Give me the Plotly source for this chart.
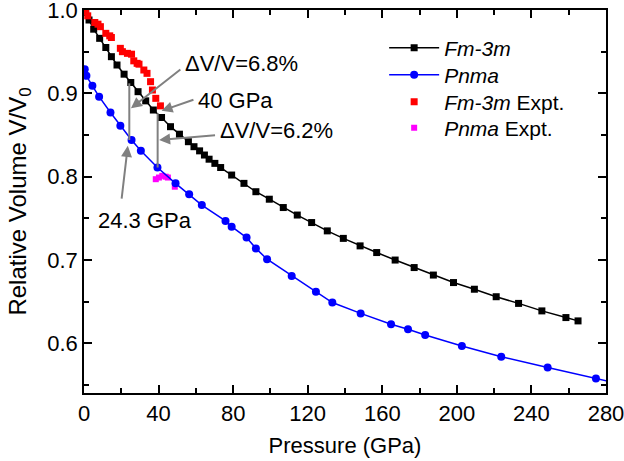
import plotly.graph_objects as go

# ---- data ----
fm3m_p = [0, 0.9, 2.7, 5.2, 8.4, 11.7, 14.7, 17.7, 21.5, 25.1, 29.0, 33.1, 37.2, 41.6, 46.4,
          51.2, 56.0, 59.0, 62.0, 64.6, 67.1, 70.2, 73.3, 79.2, 85.8, 92.2, 99.4, 106.9, 114.4,
          122.1, 130.5, 139.1, 148.1, 157.0, 166.9, 177.1, 187.4, 198.2, 209.4, 221.1, 233.1,
          245.6, 258.5, 265.0]
fm3m_v = [1.000, 0.997, 0.988, 0.977, 0.966, 0.955, 0.944, 0.934, 0.923, 0.913, 0.902, 0.891,
          0.880, 0.871, 0.860, 0.851, 0.842, 0.836, 0.831, 0.826, 0.821, 0.816, 0.811, 0.802,
          0.792, 0.782, 0.773, 0.763, 0.754, 0.745, 0.735, 0.726, 0.717, 0.709, 0.700, 0.691,
          0.682, 0.673, 0.665, 0.656, 0.648, 0.639, 0.631, 0.627]

pnma_p = [0.4, 1.3, 4.5, 8.1, 14.2, 19.5, 25.5, 30.5, 39.4, 49.1, 56.4, 63.2, 75.9, 79.2, 87.2,
          92.2, 98.2, 111.4, 124.4, 133.2, 148.4, 164.7, 173.8, 183.0, 202.7, 223.8, 248.7,
          274.6, 292.0]
pnma_v = [0.929, 0.921, 0.909, 0.896, 0.877, 0.861, 0.844, 0.831, 0.811, 0.792, 0.779, 0.766,
          0.747, 0.740, 0.727, 0.714, 0.701, 0.681, 0.662, 0.649, 0.636, 0.623, 0.617, 0.610,
          0.597, 0.584, 0.571, 0.558, 0.549]

fm3m_exp_p = [0.9, 2.0, 5.8, 7.5, 8.8, 11.7, 13.8, 14.7, 19.5, 20.6, 23.3, 25.5, 26.7, 28.5,
              29.5, 32.1, 33.8, 35.7, 36.7, 38.5, 41.0]
fm3m_exp_v = [0.998, 0.993, 0.985, 0.983, 0.980, 0.972, 0.969, 0.967, 0.954, 0.950, 0.948,
              0.947, 0.939, 0.936, 0.935, 0.928, 0.924, 0.914, 0.904, 0.894, 0.885]

pnma_exp_p = [38.5, 40.2, 42.0, 43.8, 45.0, 48.7]
pnma_exp_v = [0.797, 0.799, 0.801, 0.800, 0.799, 0.788]

x_ticks = [0, 40, 80, 120, 160, 200, 240, 280]
y_ticks = [0.6, 0.7, 0.8, 0.9, 1.0]

FONT = "Arial, Liberation Sans, sans-serif"
GRAY = "#808080"

fig = go.Figure()
fig.add_trace(go.Scatter(x=pnma_exp_p, y=pnma_exp_v, mode="markers", name="<i>Pnma</i> Expt.",
                         marker=dict(symbol="square", size=6, color="#ff00ff"), legend="legend4"))
fig.add_trace(go.Scatter(x=pnma_p, y=pnma_v, mode="lines+markers", name="<i>Pnma</i>",
                         line=dict(color="#0000ff", width=1.5),
                         marker=dict(symbol="circle", size=8, color="#0000ff"), legend="legend2"))
fig.add_trace(go.Scatter(x=fm3m_p, y=fm3m_v, mode="lines+markers", name="<i>Fm-3m</i>",
                         line=dict(color="#000000", width=1.5),
                         marker=dict(symbol="square", size=7, color="#000000"), legend="legend"))
fig.add_trace(go.Scatter(x=fm3m_exp_p, y=fm3m_exp_v, mode="markers", name="<i>Fm-3m</i> Expt.",
                         marker=dict(symbol="square", size=7, color="#ff0000"), legend="legend3"))

# vertical connector lines
fig.add_shape(type="line", x0=24.3, x1=24.3, y0=0.912, y1=0.844, line=dict(color=GRAY, width=2))
fig.add_shape(type="line", x0=39.5, x1=39.5, y0=0.876, y1=0.811, line=dict(color=GRAY, width=2))

# arrows (tip x,y ; tail ax,ay)
arrows = [
    (25.2, 0.882, 52.5, 0.930),
    (41.6, 0.879, 59.5, 0.893),
    (40.3, 0.844, 71.1, 0.850),
    (23.5, 0.837, 20.1, 0.772),
]
for x, y, ax, ay in arrows:
    fig.add_annotation(x=x, y=y, ax=ax, ay=ay, axref="x", ayref="y", xref="x", yref="y",
                       text="", showarrow=True, arrowhead=2, arrowsize=1.1, arrowwidth=2,
                       arrowcolor=GRAY, standoff=0, startstandoff=0)

labels = [
    (84.4, 0.936, "ΔV/V=6.8%"),
    (81.2, 0.892, "40 GPa"),
    (103.0, 0.856, "ΔV/V=6.2%"),
    (32.9, 0.747, "24.3 GPa"),
]
for x, y, t in labels:
    fig.add_annotation(x=x, y=y, xref="x", yref="y", text=t, showarrow=False,
                       font=dict(family=FONT, size=22, color="black"))

axis_common = dict(showline=True, linecolor="black", linewidth=1.5, mirror="ticks",
                   ticks="inside", ticklen=8, tickwidth=1.5, tickcolor="black",
                   showgrid=False, zeroline=False, automargin=False,
                   ticklabeloverflow="allow",
                   tickfont=dict(family=FONT, size=22, color="black"))

fig.update_xaxes(range=[0, 280], tickvals=x_ticks, ticktext=[str(v) for v in x_ticks],
                 minor=dict(ticks="inside", ticklen=5, tickwidth=1.5, dtick=20, tick0=0,
                            tickcolor="black"),
                 title=dict(text="Pressure (GPa)", font=dict(family=FONT, size=22, color="black"),
                            standoff=12),
                 **axis_common)
fig.update_yaxes(range=[0.5405, 1.0], tickvals=y_ticks, ticktext=[f"{v:.1f}" for v in y_ticks],
                 minor=dict(ticks="inside", ticklen=5, tickwidth=1.5, dtick=0.05, tick0=0,
                            tickcolor="black"),
                 title=dict(text="Relative Volume V/V<sub>0</sub>",
                            font=dict(family=FONT, size=24, color="black"), standoff=14),
                 **axis_common)

leg_common = dict(x=0.575, xanchor="left", yanchor="middle", bgcolor="rgba(0,0,0,0)",
                  font=dict(family=FONT, size=21, color="black"), itemwidth=50)
fig.update_layout(
    width=624, height=461,
    margin=dict(l=84, r=18, t=10, b=68),
    paper_bgcolor="white", plot_bgcolor="white",
    font=dict(family=FONT, size=21, color="black"),
    showlegend=True,
    legend=dict(y=0.9007, **leg_common),
    legend2=dict(y=0.830, **leg_common),
    legend3=dict(y=0.7597, **leg_common),
    legend4=dict(y=0.6917, **leg_common),
)

# remove the default 8px page margin so the 624x461 figure fills the window exactly
fig.write_html("out.html", config={"displayModeBar": False},
               post_script="document.body.style.margin='0px';")
